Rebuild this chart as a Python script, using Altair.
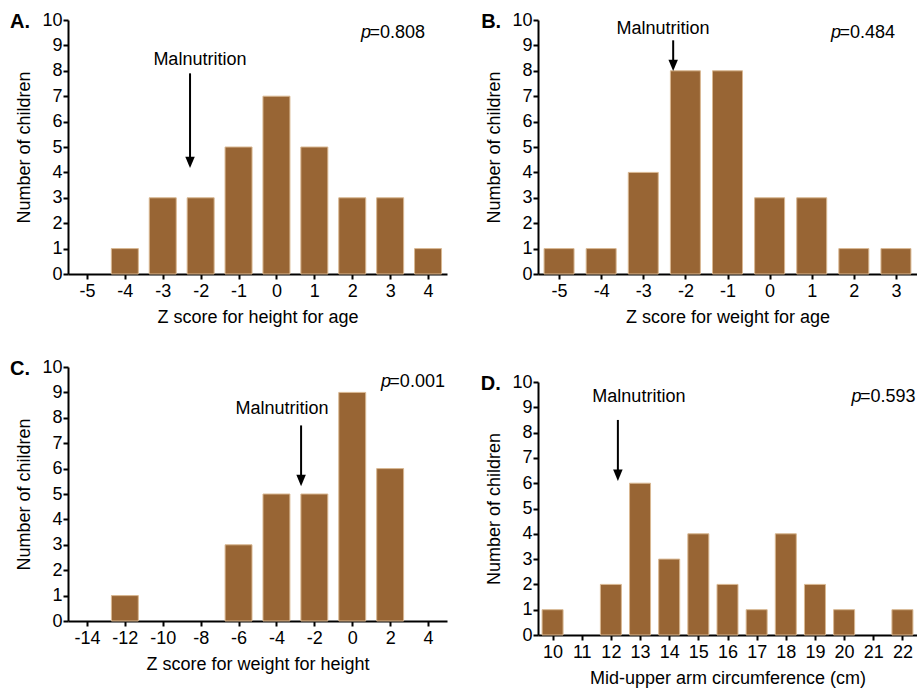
import altair as alt
import pandas as pd

FONT = "Liberation Sans"
BROWN = "#986534"
EDGE = "#d9b892"

# ---------------- data ----------------
A_z = [-5, -4, -3, -2, -1, 0, 1, 2, 3, 4]
A_n = [0, 1, 3, 3, 5, 7, 5, 3, 3, 1]

B_z = [-5, -4, -3, -2, -1, 0, 1, 2, 3]
B_n = [1, 1, 4, 8, 8, 3, 3, 1, 1]

C_z = [-14, -12, -10, -8, -6, -4, -2, 0, 2, 4]
C_n = [0, 1, 0, 0, 3, 5, 5, 9, 6, 0]

D_cm = [10, 11, 12, 13, 14, 15, 16, 17, 18, 19, 20, 21, 22]
D_n = [1, 0, 2, 6, 3, 4, 2, 1, 4, 2, 1, 0, 1]

P_VALUES = ["=0.808", "=0.484", "=0.001", "=0.593"]
LETTERS = ["A.", "B.", "C.", "D."]
X_TITLES = ["Z score for height for age", "Z score for weight for age",
            "Z score for weight for height", "Mid-upper arm circumference (cm)"]

# annotation anchors, in each panel's data units
ARROW_X = [-2.28, -2.29, -2.70, 12.24]
ARROW_TOP = [7.9, 9.2, 7.7, 8.5]
ARROW_TIP = [4.17, 7.99, 5.31, 6.09]
MAL_X = [-2.02, -2.53, -3.71, 12.96]
MAL_Y = [8.43, 9.65, 8.35, 9.41]
LET_X = [-7.03, -6.85, -18.06, 7.54]
LET_Y = [9.92, 9.92, 9.92, 9.92]
P_X = [3.92, 2.98, 4.89, 22.45]
P_Y = [9.49, 9.49, 9.41, 9.41]

# ---------------- layout (pixels) ----------------
W, H = 917, 690
LAYOUT = [
    dict(xdom=[-5.5, 4.5], xr=[68, 447], yr=[274, 20], half=0.356),
    dict(xdom=[-5.5, 3.5], xr=[538, 917], yr=[274, 20], half=0.356),
    dict(xdom=[-15, 5], xr=[68, 447], yr=[621, 367], half=0.71),
    dict(xdom=[9.5, 22.5], xr=[538, 917], yr=[635, 382], half=0.36),
]
BINS = [A_z, B_z, C_z, D_cm]
COUNTS = [A_n, B_n, C_n, D_n]

AX_STYLE = dict(
    labelFont=FONT, labelFontSize=18, labelColor="black",
    titleFont=FONT, titleFontSize=18, titleFontWeight="normal", titleColor="black",
    domainColor="black", tickColor="black", tickSize=5, tickWidth=2, domainWidth=2,
    grid=False, labelFlush=False, labelOverlap=False, labelExpr="'' + datum.value",
)


def panel(i):
    L = LAYOUT[i]
    xs = alt.Scale(domain=L["xdom"], range=L["xr"], nice=False, zero=False)
    ys = alt.Scale(domain=[0, 10], range=L["yr"], nice=False, zero=False)
    df = pd.DataFrame({"v": BINS[i], "n": COUNTS[i]})
    ppx = (L["yr"][0] - L["yr"][1]) / 10.0

    xaxis = alt.Axis(orient="bottom", offset=L["yr"][0] - H, values=BINS[i],
                     title=X_TITLES[i], labelPadding=3, titlePadding=8, **AX_STYLE)
    yaxis = alt.Axis(orient="left", offset=-L["xr"][0], values=list(range(11)),
                     title="Number of children", labelPadding=1, titlePadding=8, **AX_STYLE)

    bars = alt.Chart(df).transform_filter("datum.n > 0").transform_calculate(
        lo=f"datum.v - {L['half']}", hi=f"datum.v + {L['half']}", base="0"
    ).mark_bar(color=BROWN, stroke=EDGE, strokeWidth=1).encode(
        x=alt.X("lo:Q", scale=xs, axis=xaxis),
        x2="hi:Q",
        y=alt.Y("n:Q", scale=ys, axis=yaxis),
        y2="base:Q",
    )

    arrow_df = pd.DataFrame({"x": [ARROW_X[i]], "top": [ARROW_TOP[i]], "tip": [ARROW_TIP[i]]})
    shaft = alt.Chart(arrow_df).transform_calculate(
        end=f"datum.tip + {8.0 / ppx}"
    ).mark_rule(color="black", strokeWidth=2).encode(
        x=alt.X("x:Q", scale=xs, axis=None),
        y=alt.Y("top:Q", scale=ys, axis=None),
        y2="end:Q",
    )
    head = alt.Chart(arrow_df).mark_point(
        shape="M-1,-2.4L1,-2.4L0,0Z", size=90, filled=True, color="black", opacity=1
    ).encode(
        x=alt.X("x:Q", scale=xs, axis=None),
        y=alt.Y("tip:Q", scale=ys, axis=None),
    )

    mal = alt.Chart(pd.DataFrame({"x": [MAL_X[i]], "y": [MAL_Y[i]], "t": ["Malnutrition"]})).mark_text(
        font=FONT, fontSize=18, align="center", baseline="middle", color="black"
    ).encode(x=alt.X("x:Q", scale=xs, axis=None), y=alt.Y("y:Q", scale=ys, axis=None), text="t:N")

    let = alt.Chart(pd.DataFrame({"x": [LET_X[i]], "y": [LET_Y[i]], "t": [LETTERS[i]]})).mark_text(
        font=FONT, fontSize=20, fontWeight="bold", align="left", baseline="middle", color="black"
    ).encode(x=alt.X("x:Q", scale=xs, axis=None), y=alt.Y("y:Q", scale=ys, axis=None), text="t:N")

    pdf = pd.DataFrame({"x": [P_X[i]], "y": [P_Y[i]], "t": [P_VALUES[i]], "p": ["p"]})
    pval = alt.Chart(pdf).mark_text(
        font=FONT, fontSize=18, align="right", baseline="middle", color="black"
    ).encode(x=alt.X("x:Q", scale=xs, axis=None), y=alt.Y("y:Q", scale=ys, axis=None), text="t:N")
    pital = alt.Chart(pdf).mark_text(
        font=FONT, fontSize=18, fontStyle="italic", align="right", baseline="middle",
        color="black", dx=-54
    ).encode(x=alt.X("x:Q", scale=xs, axis=None), y=alt.Y("y:Q", scale=ys, axis=None), text="p:N")

    return [bars, shaft, head, mal, let, pval, pital]


layers = []
for i in range(4):
    layers.extend(panel(i))

chart = alt.layer(*layers).resolve_scale(
    x="independent", y="independent"
).properties(
    width=W, height=H, padding=0, autosize=alt.AutoSizeParams(type="none"),
    background="white"
).configure_view(stroke=None)

chart.save("out.html", embed_options={"renderer": "svg", "actions": False})
